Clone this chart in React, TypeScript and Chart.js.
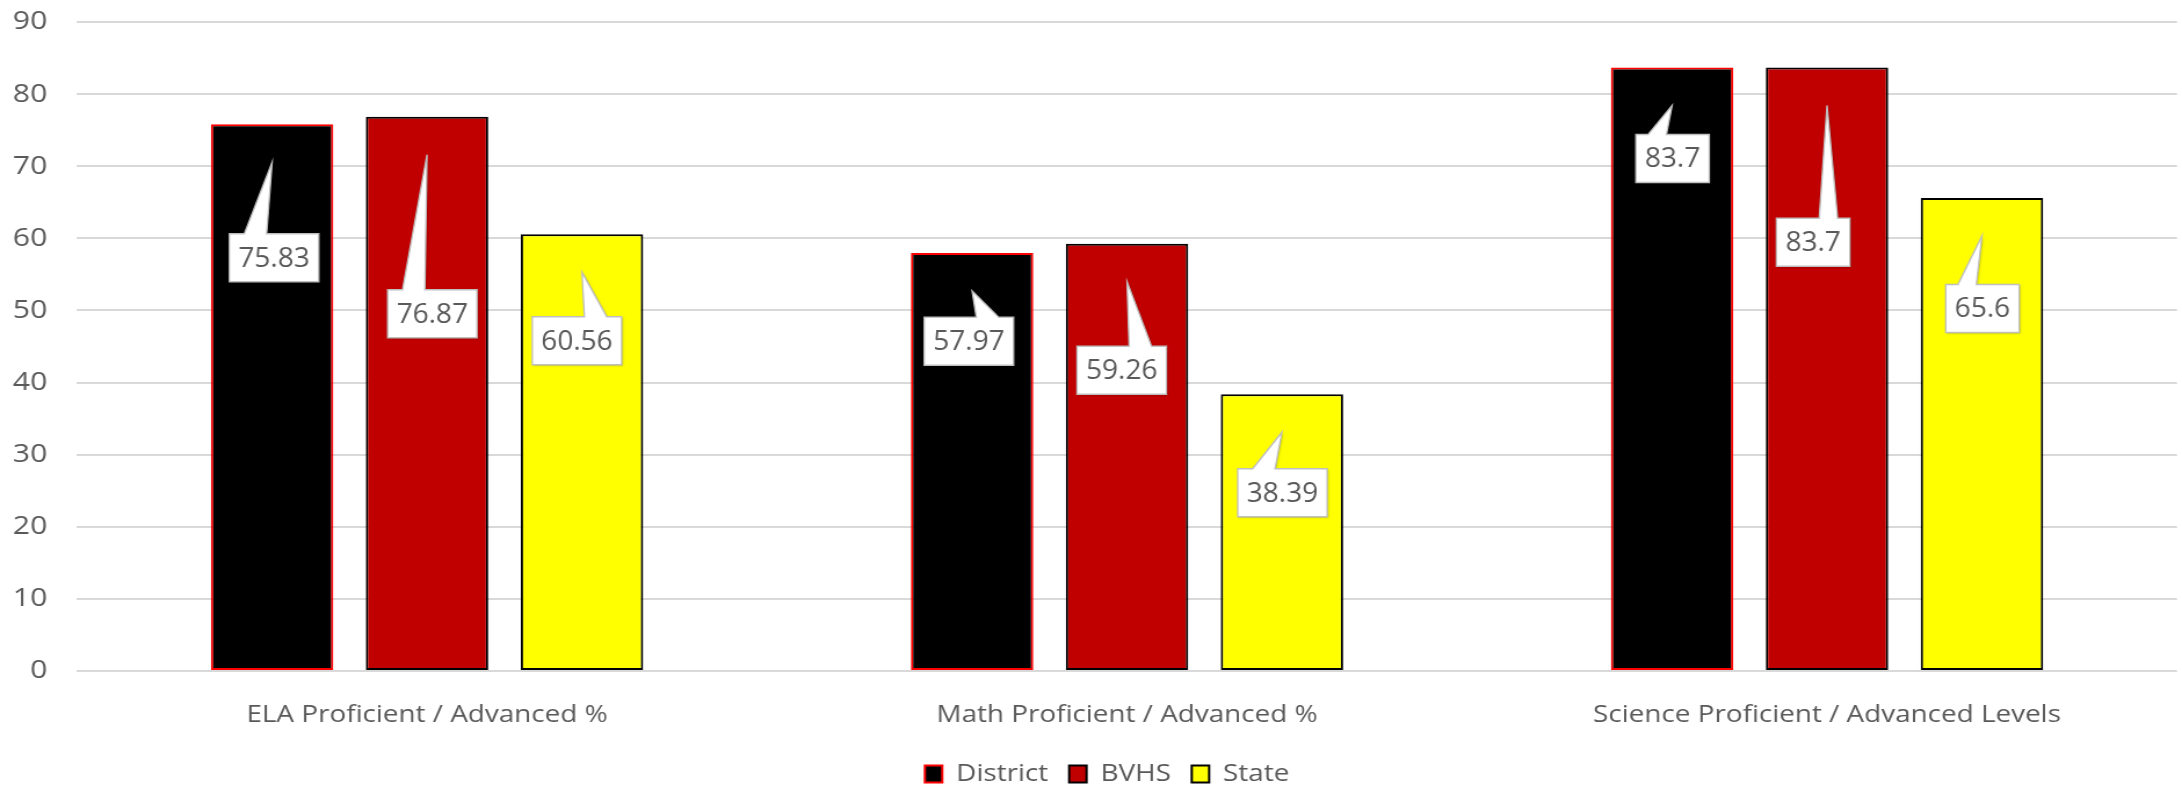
import React, { useEffect, useRef } from "react";
import { Chart, registerables } from "chart.js";

Chart.register(...registerables);

// ---- data ----
const categories = [
  "ELA Proficient / Advanced %",
  "Math Proficient / Advanced %",
  "Science Proficient / Advanced Levels",
];
const seriesNames = ["District", "BVHS", "State"];
const districtValues = [75.83, 57.97, 83.7];
const bvhsValues = [76.87, 59.26, 83.7];
const stateValues = [60.56, 38.39, 65.6];
const yMin = 0;
const yMax = 90;
const yStep = 10;

// ---- styling / layout (not data) ----
const FONT = "'Open Sans', sans-serif";
const TEXT = "#595959";
const PAGE_W = 2182;
const PAGE_H = 788;
const CANVAS_W = 1881;
const STRETCH = PAGE_W / CANVAS_W;
const PAD_LEFT = 8;
const PLOT_LEFT = 66.4; // canvas units
const PLOT_BOTTOM = 671;
const LEGEND_TOP = 744;
const LEGEND_SHIFT = 12;
const fills = ["#000000", "#C00000", "#FFFF00"];
const borders = ["#FF0000", "#000000", "#000000"];
// callout box centre offsets from the top-centre of each bar (page px)
const calloutOffsets = [
  [[2, 133.5], [-3.2, 88.4], [0.5, 91]],
  [[5.3, 197], [-5.3, 126.5], [-13.9, 174.7]],
  [[-5, 106.4], [0.5, 98.6], [0.5, 110.5]],
];

const legendShiftPlugin = {
  id: "legendShift",
  afterLayout(chart: any) {
    if (chart.legend) {
      chart.legend.left += LEGEND_SHIFT;
      chart.legend.right += LEGEND_SHIFT;
    }
  },
};

const calloutPlugin = {
  id: "callouts",
  afterDatasetsDraw(chart: any) {
    const ctx = chart.ctx as CanvasRenderingContext2D;
    chart.data.datasets.forEach((ds: any, di: number) => {
      const meta = chart.getDatasetMeta(di);
      meta.data.forEach((bar: any, i: number) => {
        const text = String(ds.data[i]);
        const [dx, dy] = calloutOffsets[di][i];
        ctx.save();
        ctx.translate(bar.x, bar.y);
        ctx.scale(1 / STRETCH, 1);
        ctx.font = `28px ${FONT}`;
        const tw = ctx.measureText(text).width;
        const w = tw + 18;
        const h = 48;
        const left = dx - w / 2;
        const top = dy - h / 2;
        const right = left + w;
        const bottom = top + h;
        const tipX = 0;
        const tipY = 38;
        const onRight = tipX > dx;
        const b1 = left + (w * (onRight ? 7 : 2)) / 12;
        const b2 = left + (w * (onRight ? 10 : 5)) / 12;
        ctx.beginPath();
        ctx.moveTo(left, top);
        ctx.lineTo(b1, top);
        ctx.lineTo(tipX, tipY);
        ctx.lineTo(b2, top);
        ctx.lineTo(right, top);
        ctx.lineTo(right, bottom);
        ctx.lineTo(left, bottom);
        ctx.closePath();
        ctx.shadowColor = "rgba(0,0,0,0.25)";
        ctx.shadowBlur = 2;
        ctx.shadowOffsetX = 1;
        ctx.shadowOffsetY = 1;
        ctx.fillStyle = "#FFFFFF";
        ctx.fill();
        ctx.shadowColor = "transparent";
        ctx.strokeStyle = "#BFBFBF";
        ctx.lineWidth = 1.5;
        ctx.stroke();
        ctx.fillStyle = TEXT;
        ctx.textAlign = "center";
        ctx.textBaseline = "middle";
        ctx.fillText(text, dx, dy + 1);
        ctx.restore();
      });
    });
  },
};

export default function App() {
  const ref = useRef<HTMLCanvasElement | null>(null);

  useEffect(() => {
    document.body.style.margin = "0";
    document.body.style.overflow = "hidden";
    Chart.defaults.font.family = FONT;
    const canvas = ref.current!;
    const seriesValues = [districtValues, bvhsValues, stateValues];
    const chart = new Chart(canvas, {
      type: "bar",
      data: {
        labels: categories,
        datasets: seriesNames.map((name, k) => ({
          label: name,
          data: seriesValues[k],
          backgroundColor: fills[k],
          borderColor: borders[k],
          borderWidth: 2,
          borderSkipped: false,
          categoryPercentage: 0.664,
          barPercentage: 0.79,
        })),
      },
      options: {
        animation: false,
        responsive: false,
        devicePixelRatio: 1,
        layout: { padding: { left: PAD_LEFT, right: 4.3, top: 22, bottom: -8 } },
        plugins: {
          legend: {
            position: "bottom",
            labels: {
              boxWidth: 15,
              boxHeight: 17,
              padding: 18,
              color: TEXT,
              font: { size: 24, family: FONT },
            },
          },
          tooltip: { enabled: false },
        },
        scales: {
          x: {
            grid: { display: false, drawTicks: false },
            border: { display: false },
            ticks: {
              color: TEXT,
              padding: 29.6,
              font: { size: 24, family: FONT },
            },
            afterFit: (scale: any) => {
              scale.height = LEGEND_TOP - PLOT_BOTTOM;
            },
          },
          y: {
            min: yMin,
            max: yMax,
            ticks: {
              stepSize: yStep,
              color: TEXT,
              padding: 25.6,
              font: { size: 26, family: FONT },
            },
            grid: { color: "#D9D9D9", lineWidth: 2, drawTicks: false },
            border: { display: false },
            afterFit: (scale: any) => {
              scale.width = PLOT_LEFT - PAD_LEFT;
              scale.paddingTop = 0;
              scale.paddingBottom = 0;
            },
          },
        },
      },
      plugins: [calloutPlugin, legendShiftPlugin],
    });
    return () => chart.destroy();
  }, []);

  return (
    <canvas
      ref={ref}
      width={CANVAS_W}
      height={PAGE_H}
      style={{ width: `${PAGE_W}px`, height: `${PAGE_H}px`, display: "block" }}
    />
  );
}
